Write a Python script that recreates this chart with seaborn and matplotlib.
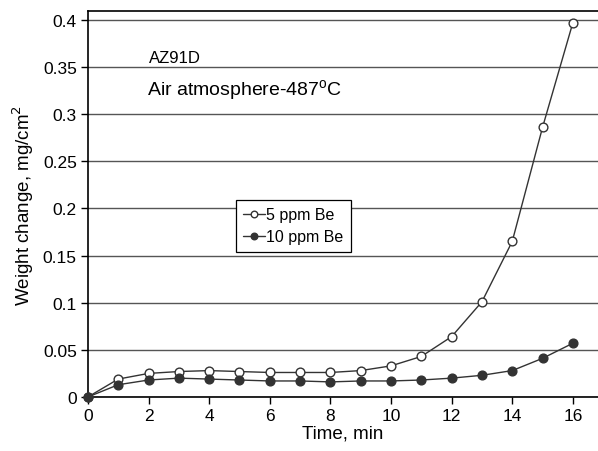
import numpy as np
import matplotlib
matplotlib.use("Agg")
import matplotlib.pyplot as plt
import seaborn as sns

# data
time_min = [0, 1, 2, 3, 4, 5, 6, 7, 8, 9, 10, 11, 12, 13, 14, 15, 16]
be_5ppm = [0, 0.019, 0.025, 0.027, 0.028, 0.027, 0.026, 0.026, 0.026, 0.028,
           0.033, 0.043, 0.064, 0.101, 0.165, 0.286, 0.397]
be_10ppm = [0, 0.013, 0.018, 0.020, 0.019, 0.018, 0.017, 0.017, 0.016, 0.017,
            0.017, 0.018, 0.020, 0.023, 0.028, 0.041, 0.057]
x_ticks = [0, 2, 4, 6, 8, 10, 12, 14, 16]
y_ticks = [0, 0.05, 0.1, 0.15, 0.2, 0.25, 0.3, 0.35, 0.4]
y_tick_labels = ["0", "0.05", "0.1", "0.15", "0.2", "0.25", "0.3", "0.35", "0.4"]

sns.set_style("white")
plt.rcParams['font.family'] = ['Liberation Sans', 'DejaVu Sans']
plt.rcParams['text.color'] = 'black'
plt.rcParams['axes.labelcolor'] = 'black'
plt.rcParams['xtick.color'] = 'black'
plt.rcParams['ytick.color'] = 'black'

fig = plt.figure(figsize=(5.98, 4.52), dpi=100)
ax = fig.add_axes([0.147, 0.1195, 0.853, 0.854])

line_col = "#333333"
sns.lineplot(x=time_min, y=be_5ppm, ax=ax, color=line_col, lw=1, marker="o",
             markersize=6.3, markerfacecolor="white", markeredgecolor=line_col,
             markeredgewidth=1, label="5 ppm Be", zorder=3, clip_on=False)
sns.lineplot(x=time_min, y=be_10ppm, ax=ax, color=line_col, lw=1, marker="o",
             markersize=6.3, markerfacecolor=line_col, markeredgecolor=line_col,
             markeredgewidth=1, label="10 ppm Be", zorder=4, clip_on=False)

ax.set_xlim(0, 16.83)
ax.set_ylim(0, 0.4095)
ax.set_xticks(x_ticks)
ax.set_yticks(y_ticks)
ax.set_yticklabels(y_tick_labels)
ax.yaxis.grid(True, color="#555555", lw=1)
ax.xaxis.grid(False)
ax.tick_params(axis="both", direction="out", length=5, width=1, color="black",
               labelsize=12.5, pad=3, bottom=True, left=True)
for s in ["left", "bottom", "top"]:
    ax.spines[s].set_color("black")
    ax.spines[s].set_linewidth(1.2)
ax.spines["right"].set_visible(False)

ax.set_xlabel("Time, min", fontsize=13.5, labelpad=1)
ax.set_ylabel("Weight change, mg/cm$^2$", fontsize=13.5, labelpad=5)

ax.text(2.0, 0.355, "AZ91D", fontsize=12)
ax.text(1.95, 0.320, "Air atmosphere-487$^{\\mathregular{o}}$C", fontsize=14)

leg = ax.legend(loc="upper left", bbox_to_anchor=(0.29, 0.51), fontsize=11.5,
                frameon=True, fancybox=False, framealpha=1, edgecolor="black",
                handlelength=1.4, handletextpad=0.05, borderpad=0.45,
                labelspacing=0.45, borderaxespad=0, markerscale=0.75)
leg.get_frame().set_linewidth(0.9)

fig.savefig("out.png", dpi=100)
